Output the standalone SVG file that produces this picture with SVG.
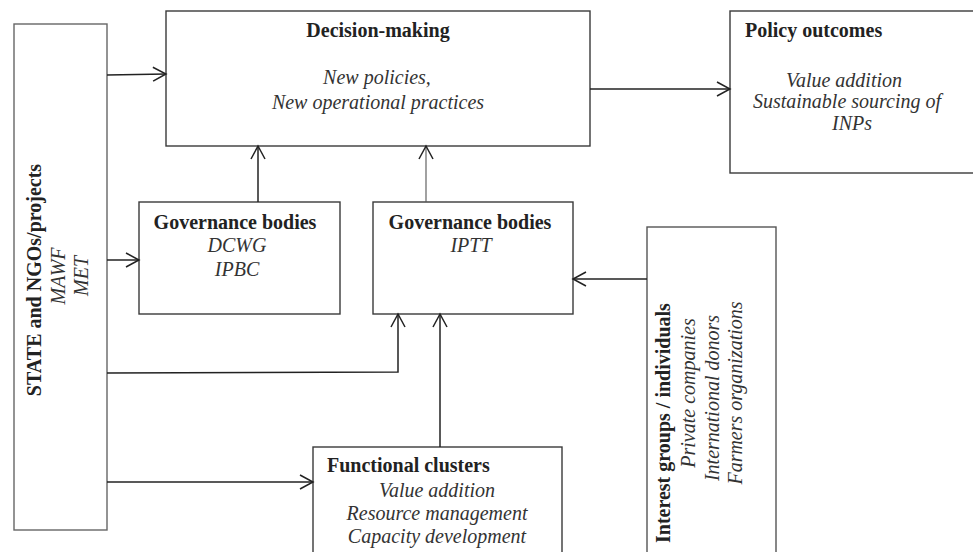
<svg xmlns="http://www.w3.org/2000/svg" width="973" height="552" viewBox="0 0 973 552">
<style>
.box{fill:#fff;stroke:#3a3a3a;stroke-width:1.4}
.t{font-family:"Liberation Serif","Times New Roman",serif;font-size:20px;fill:#222}
.b{font-weight:bold}
.i{font-style:italic;fill:#333}
.c{text-anchor:middle}
.ln{fill:none;stroke:#222;stroke-width:1.5}
</style>
<defs>
<marker id="arr" markerUnits="userSpaceOnUse" markerWidth="16" markerHeight="16" refX="13" refY="7" orient="auto" overflow="visible">
<path d="M0,0 L13,7 L0,14" fill="none" stroke="#222" stroke-width="1.5"/>
</marker>
</defs>
<rect width="973" height="552" fill="#fff"/>
<g id="state">
<rect class="box" x="14" y="24" width="93" height="506" style="stroke:#666"/>
<text class="t b c" transform="translate(41,280) rotate(-90)">STATE and NGOs/projects</text>
<text class="t i c" transform="translate(65,276) rotate(-90)">MAWF</text>
<text class="t i c" transform="translate(88,276) rotate(-90)">MET</text>
</g>
<g id="decision">
<rect class="box" x="166" y="11" width="424" height="135"/>
<text class="t b c" x="378" y="37">Decision-making</text>
<text class="t i c" x="377" y="84">New policies,</text>
<text class="t i c" x="378" y="109">New operational practices</text>
</g>
<g id="policy">
<rect class="box" x="730" y="11" width="250" height="162"/>
<text class="t b" x="745" y="37">Policy outcomes</text>
<text class="t i c" x="844" y="87">Value addition</text>
<text class="t i c" x="847" y="108">Sustainable sourcing of</text>
<text class="t i c" x="852" y="130">INPs</text>
</g>
<g id="gov1">
<rect class="box" x="139" y="202" width="201" height="112"/>
<text class="t b c" x="235" y="229">Governance bodies</text>
<text class="t i c" x="237" y="252">DCWG</text>
<text class="t i c" x="237" y="276">IPBC</text>
</g>
<g id="gov2">
<rect class="box" x="373" y="202" width="200" height="112"/>
<text class="t b c" x="470" y="229">Governance bodies</text>
<text class="t i c" x="471" y="252">IPTT</text>
</g>
<g id="interest">
<rect class="box" x="647" y="227" width="129" height="335" style="stroke:#555"/>
<text class="t b" transform="translate(670,543) rotate(-90)">Interest groups / individuals</text>
<text class="t i c" transform="translate(695,393) rotate(-90)">Private companies</text>
<text class="t i c" transform="translate(719,398) rotate(-90)">International donors</text>
<text class="t i c" transform="translate(742,393) rotate(-90)">Farmers organizations</text>
</g>
<g id="clusters">
<rect class="box" x="313" y="447" width="249" height="120"/>
<text class="t b" x="327" y="472">Functional clusters</text>
<text class="t i c" x="437" y="497">Value addition</text>
<text class="t i c" x="437" y="520">Resource management</text>
<text class="t i c" x="437" y="543">Capacity development</text>
</g>
<g id="connectors">
<path class="ln" d="M107,75 L166,74" marker-end="url(#arr)"/>
<path class="ln" d="M590,89 L730,89" marker-end="url(#arr)"/>
<path class="ln" d="M107,260 L139,260" marker-end="url(#arr)"/>
<path class="ln" d="M258,202 L258,146" marker-end="url(#arr)"/>
<path class="ln" d="M426,202 L426,146" marker-end="url(#arr)" style="stroke:#555;stroke-width:1.1"/>
<path class="ln" d="M647,279 L573,279" marker-end="url(#arr)"/>
<path class="ln" d="M107,373 L398,372 L398,314" marker-end="url(#arr)"/>
<path class="ln" d="M440,447 L440,314" marker-end="url(#arr)"/>
<path class="ln" d="M107,482 L313,482" marker-end="url(#arr)"/>
</g>
</svg>
